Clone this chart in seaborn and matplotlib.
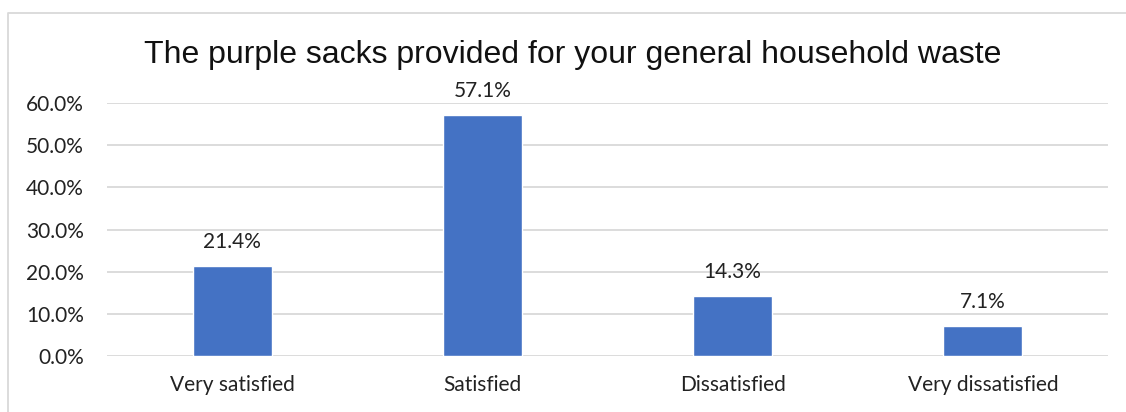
import matplotlib
matplotlib.use("Agg")
import matplotlib.pyplot as plt
import matplotlib.lines as mlines
import seaborn as sns
import pandas as pd

categories = ["Very satisfied", "Satisfied", "Dissatisfied", "Very dissatisfied"]
shares = [21.4, 57.1, 14.3, 7.1]
y_ticks = [0, 10, 20, 30, 40, 50, 60]
title = "The purple sacks provided for your general household waste"

sns.set_theme(style="white")
plt.rcParams["font.family"] = ["Lato", "DejaVu Sans"]

df = pd.DataFrame({"category": categories, "share": shares})

fig = plt.figure(figsize=(11.26, 4.12), dpi=100)
ax = fig.add_axes([107 / 1126, 1 - 356 / 412, (1108 - 107) / 1126, (356 - 103) / 412])

sns.barplot(data=df, x="category", y="share", color="#4472C4", saturation=1,
            width=0.316, ax=ax, zorder=3)

ax.set_ylim(0, 60)
ax.set_xlim(-0.5, len(categories) - 0.5)
ax.set_yticks(y_ticks)
ax.set_yticklabels([f"{v:.1f}%" for v in y_ticks], fontsize=15, color="#222222")
ax.tick_params(axis="x", labelsize=15, colors="#222222", length=0, pad=14)
ax.tick_params(axis="y", length=0, pad=16.5)
ax.set_xlabel("")
ax.set_ylabel("")
ax.yaxis.grid(True, color="#d9d9d9", linewidth=1.3, zorder=0)
for s in ax.spines.values():
    s.set_visible(False)

for i, v in enumerate(shares):
    ax.annotate(f"{v:.1f}%", (i, v), xytext=(0, 10), textcoords="offset points",
                ha="center", va="bottom", fontsize=15, color="#222222")

fig.text(0.509, 0.866, title, ha="center", va="center", fontsize=23,
         family=["Liberation Sans", "DejaVu Sans"], color="#111111")

# chart frame
fig.add_artist(mlines.Line2D([8 / 1126, 8 / 1126, 1.0], [0.0, 1 - 13 / 412, 1 - 13 / 412],
                             transform=fig.transFigure, color="#d9d9d9", linewidth=1.3))

fig.savefig("out.png", dpi=100, facecolor="white")
